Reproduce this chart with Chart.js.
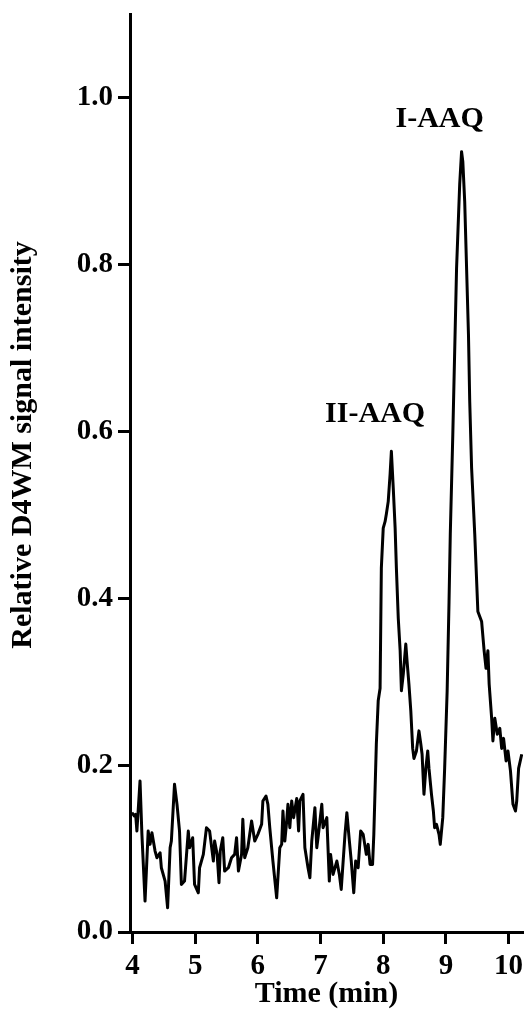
<!DOCTYPE html>
<html>
<head>
<meta charset="utf-8">
<script src="https://cdn.jsdelivr.net/npm/chart.js@4.4.1/dist/chart.umd.min.js"></script>
<style>
  html, body { margin: 0; padding: 0; background: #fff; }
  #wrap { width: 526px; height: 1012px; position: relative; }
</style>
</head>
<body>
<div id="wrap"><canvas id="c"></canvas></div>
<script>
// ---- data ----
const baselineTime = [3.99,4.03,4.05,4.07,4.12,4.15,4.20,4.25,4.28,4.31,4.36,4.39,4.44,4.46,4.52,4.56,4.60,4.62,4.67,4.71,4.75,4.78,4.83,4.89,4.91,4.96,4.99,5.05,5.07,5.13,5.18,5.23,5.29,5.31,5.35,5.38,5.40,5.44,5.47,5.53,5.58,5.63,5.66,5.69,5.74,5.76,5.79,5.84,5.90,5.95,6.00,6.06,6.08,6.13,6.16,6.19,6.24,6.30,6.35,6.38,6.40,6.43,6.46,6.48,6.51,6.54,6.57,6.62,6.65,6.67,6.72,6.75,6.80,6.83,6.86,6.91,6.94,6.96,7.02,7.04,7.10,7.14,7.16,7.20,7.26,7.30,7.33,7.39,7.42,7.46,7.49,7.53,7.56,7.60,7.64,7.68,7.73,7.76,7.79,7.83,7.85];
const baselineIntensity = [0.143,0.139,0.141,0.121,0.181,0.117,0.037,0.121,0.105,0.119,0.097,0.089,0.095,0.077,0.061,0.029,0.101,0.109,0.177,0.153,0.121,0.057,0.061,0.121,0.101,0.113,0.057,0.047,0.077,0.093,0.125,0.121,0.085,0.109,0.093,0.059,0.097,0.113,0.073,0.077,0.089,0.093,0.113,0.073,0.093,0.135,0.089,0.101,0.133,0.109,0.117,0.129,0.157,0.163,0.153,0.125,0.085,0.041,0.101,0.105,0.145,0.109,0.133,0.153,0.125,0.157,0.137,0.160,0.121,0.157,0.165,0.101,0.077,0.065,0.109,0.149,0.101,0.113,0.153,0.125,0.137,0.061,0.093,0.069,0.085,0.069,0.051,0.117,0.143,0.109,0.085,0.047,0.085,0.077,0.121,0.117,0.093,0.105,0.081,0.081,0.117];
const peakTime = [7.89,7.92,7.95,7.97,8.00,8.03,8.05,8.08,8.11,8.13,8.16,8.19,8.21,8.24,8.27,8.29,8.32,8.36,8.38,8.41,8.44,8.47,8.49,8.53,8.57,8.60,8.62,8.65,8.68,8.71,8.73,8.77,8.80,8.82,8.85,8.89,8.91,8.95,8.98,9.02,9.05,9.07,9.11,9.17,9.22,9.25,9.27,9.30,9.36,9.38,9.41,9.46,9.51,9.57,9.61,9.64,9.67,9.69,9.73,9.75,9.78,9.82,9.86,9.89,9.92,9.96,9.99,10.03,10.07,10.11,10.13,10.16,10.21];
const peakIntensity = [0.225,0.277,0.292,0.436,0.484,0.492,0.501,0.516,0.549,0.576,0.532,0.484,0.436,0.376,0.337,0.289,0.309,0.345,0.325,0.297,0.265,0.220,0.208,0.217,0.241,0.225,0.213,0.165,0.196,0.217,0.196,0.165,0.145,0.125,0.129,0.117,0.105,0.137,0.196,0.289,0.396,0.477,0.596,0.795,0.896,0.935,0.923,0.875,0.716,0.636,0.556,0.477,0.384,0.372,0.337,0.316,0.337,0.297,0.256,0.229,0.256,0.237,0.244,0.220,0.232,0.205,0.217,0.193,0.153,0.145,0.157,0.196,0.213];

const xTicks = [4,5,6,7,8,9,10];
const yTicks = [0.0,0.2,0.4,0.6,0.8,1.0];
const peakLabels = ['I-AAQ','II-AAQ'];
const peakLabelTime = [8.90, 7.87];
const peakLabelIntensity = [0.965, 0.611];

const xTitle = 'Time (min)';
const yTitle = 'Relative D4WM signal intensity';

// ---- build ----
const allTime = baselineTime.concat(peakTime);
const allIntensity = baselineIntensity.concat(peakIntensity);
const points = allTime.map((t, i) => ({ x: t, y: allIntensity[i] }));

const FONT = "'Liberation Serif', 'Times New Roman', serif";

const labelPlugin = {
  id: 'labels',
  afterDraw(chart) {
    const ctx = chart.ctx;
    const xs = chart.scales.x, ys = chart.scales.y;
    ctx.save();
    ctx.fillStyle = '#000';
    ctx.font = 'bold 30px ' + FONT;
    ctx.textAlign = 'center';
    ctx.textBaseline = 'alphabetic';
    peakLabels.forEach((lab, i) => {
      ctx.fillText(lab, xs.getPixelForValue(peakLabelTime[i]), ys.getPixelForValue(peakLabelIntensity[i]));
    });
    // y-axis title
    ctx.translate(31, (ys.top + ys.bottom) / 2 - 28);
    ctx.rotate(-Math.PI / 2);
    ctx.font = 'bold 30px ' + FONT;
    ctx.fillText(yTitle, 0, 0);
    ctx.restore();
  }
};

new Chart(document.getElementById('c'), {
  type: 'line',
  data: {
    datasets: [{
      data: points,
      borderColor: '#000',
      borderWidth: 3,
      pointRadius: 0,
      tension: 0,
      borderJoinStyle: 'round',
      fill: false
    }]
  },
  options: {
    responsive: true,
    maintainAspectRatio: false,
    animation: false,
    layout: { padding: { top: 14, right: 3, left: 0, bottom: 0 } },
    plugins: { legend: { display: false }, tooltip: { enabled: false } },
    scales: {
      x: {
        type: 'linear',
        min: 3.96,
        max: 10.23,
        afterBuildTicks: (s) => { s.ticks = xTicks.map(v => ({ value: v })); },
        afterFit: (s) => { s.height = 80; s.paddingLeft = 0; s.paddingRight = 0; },
        border: { display: true, width: 3, color: '#000' },
        grid: { display: true, drawOnChartArea: false, drawTicks: true, tickLength: 12, tickWidth: 3, tickColor: '#000' },
        ticks: { color: '#000', font: { family: FONT, size: 29, weight: 'bold' }, padding: 5, maxRotation: 0,
                 callback: (v) => String(v) },
        title: { display: true, text: xTitle, color: '#000', font: { family: FONT, size: 30, weight: 'bold' }, padding: { top: 0, bottom: 0 } }
      },
      y: {
        type: 'linear',
        min: 0,
        max: 1.1,
        afterBuildTicks: (s) => { s.ticks = yTicks.map(v => ({ value: v })); },
        afterFit: (s) => { s.width = 130; s.paddingTop = 0; s.paddingBottom = 0; },
        border: { display: true, width: 3, color: '#000' },
        grid: { display: true, drawOnChartArea: false, drawTicks: true, tickLength: 12, tickWidth: 3, tickColor: '#000' },
        ticks: { color: '#000', font: { family: FONT, size: 29, weight: 'bold' }, padding: 5,
                 callback: (v) => Number(v).toFixed(1) }
      }
    }
  },
  plugins: [labelPlugin]
});
</script>
</body>
</html>
